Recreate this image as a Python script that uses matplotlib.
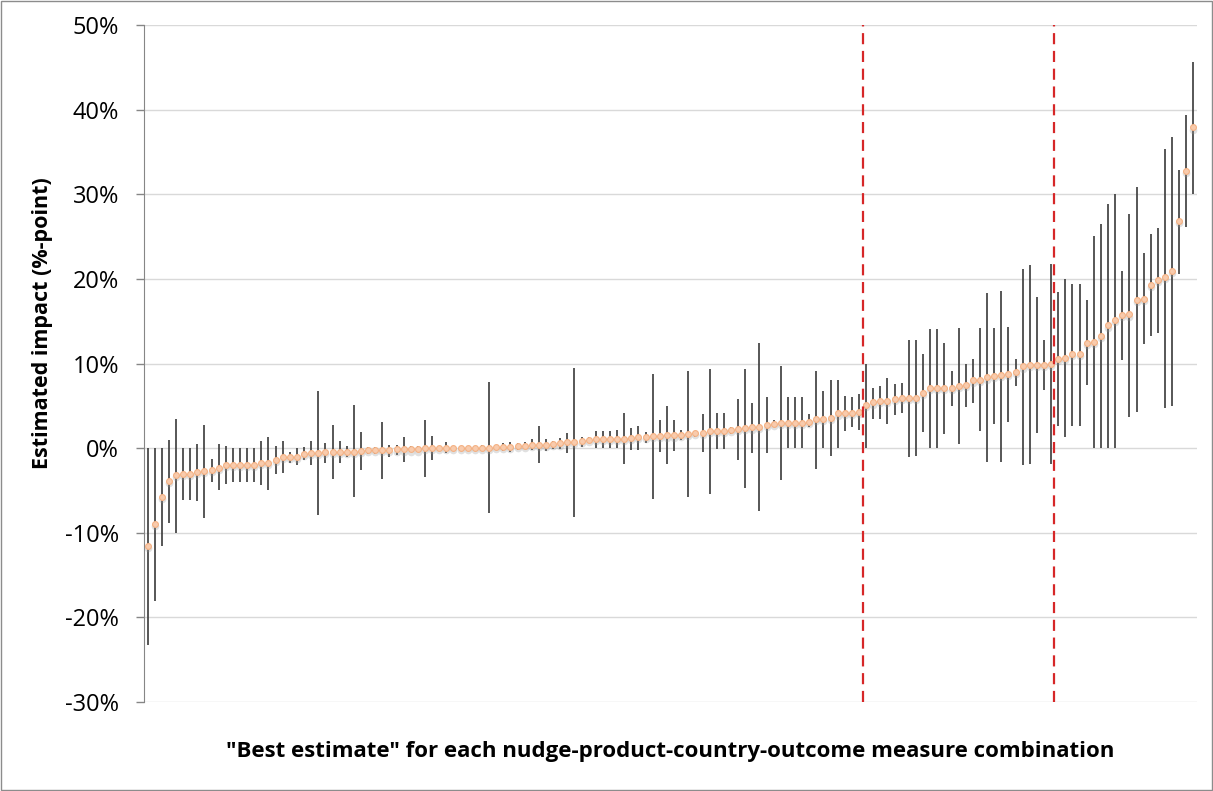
import matplotlib
matplotlib.use("Agg")
import matplotlib.pyplot as plt
from matplotlib.patches import Rectangle
from matplotlib.ticker import FuncFormatter
import numpy as np

# best estimate (%-point), sorted, with upper / lower bounds of each range
est = [-11.6, -9.0, -5.8, -3.9, -3.2, -3.0, -3.0, -2.8, -2.7, -2.6,
       -2.3, -2.0, -2.0, -2.0, -2.0, -2.0, -1.8, -1.7, -1.4, -1.0,
       -1.0, -1.0, -0.7, -0.6, -0.6, -0.45, -0.4, -0.4, -0.4, -0.4,
       -0.3, -0.25, -0.25, -0.25, -0.25, -0.15, -0.15, -0.15, -0.15, 0.0,
       0.0, 0.0, 0.0, 0.0, 0.0, 0.0, 0.0, 0.0, 0.0, 0.1,
       0.15, 0.15, 0.25, 0.3, 0.4, 0.4, 0.4, 0.45, 0.55, 0.7,
       0.7, 0.8, 1.0, 1.1, 1.1, 1.1, 1.1, 1.1, 1.2, 1.3,
       1.3, 1.4, 1.4, 1.5, 1.5, 1.55, 1.7, 1.8, 1.8, 2.0,
       2.0, 2.0, 2.1, 2.25, 2.4, 2.45, 2.5, 2.75, 2.9, 3.0,
       3.0, 3.0, 3.0, 3.1, 3.4, 3.45, 3.55, 4.1, 4.15, 4.2,
       4.25, 5.1, 5.4, 5.55, 5.6, 5.8, 5.9, 5.9, 5.9, 6.55,
       7.1, 7.1, 7.1, 7.1, 7.4, 7.5, 8.0, 8.1, 8.35, 8.5,
       8.6, 8.8, 9.0, 9.65, 9.85, 9.85, 9.85, 9.9, 10.5, 10.7,
       11.1, 11.1, 12.45, 12.6, 13.3, 14.5, 15.1, 15.7, 15.8, 17.5,
       17.6, 19.3, 19.9, 20.2, 20.9, 26.8, 32.8, 37.9]

upper = [0.0, 0.0, 0.0, 1.0, 3.5, 0.0, 0.0, 0.5, 2.7, -1.3,
         0.5, 0.2, 0.0, 0.0, 0.0, 0.0, 0.8, 1.3, 0.3, 0.8,
         -0.4, 0.0, 0.1, 0.8, 6.8, 0.6, 2.7, 0.9, 0.2, 5.1,
         1.9, 0.1, 0.1, 3.1, 0.4, 0.4, 1.3, 0.2, 0.2, 3.3,
         1.4, 0.1, 0.7, 0.1, 0.1, 0.1, 0.1, 0.4, 7.8, 0.3,
         0.55, 0.7, 0.55, 0.7, 1.1, 2.6, 1.1, 0.85, 1.15, 1.8,
         9.5, 1.3, 1.3, 2.0, 2.0, 2.0, 2.1, 4.1, 2.4, 2.6,
         1.9, 8.8, 3.3, 5.0, 3.3, 2.1, 9.1, 2.0, 4.0, 9.3,
         4.1, 4.1, 2.5, 5.8, 9.4, 5.3, 12.4, 6.1, 3.3, 9.7,
         6.0, 6.0, 6.0, 4.0, 9.1, 6.8, 8.0, 8.0, 6.2, 6.1,
         6.4, 10.0, 7.1, 7.4, 8.3, 7.6, 7.7, 12.8, 12.8, 11.1,
         14.1, 14.1, 12.4, 9.1, 14.2, 10.0, 10.5, 14.2, 18.3, 14.2,
         18.6, 14.3, 10.5, 21.2, 21.6, 17.9, 12.8, 21.8, 18.4, 20.0,
         19.4, 19.4, 17.5, 25.1, 26.5, 28.8, 30.0, 20.9, 27.7, 30.9,
         23.0, 25.3, 26.0, 35.4, 36.8, 32.9, 39.4, 45.6]

lower = [-23.3, -18.1, -11.6, -8.8, -10.0, -6.1, -6.1, -6.3, -8.2, -4.0,
         -5.0, -4.2, -4.0, -4.0, -4.0, -4.0, -4.4, -4.9, -3.0, -2.9,
         -1.7, -2.0, -1.4, -2.0, -7.9, -1.7, -3.6, -1.8, -1.0, -5.8,
         -2.6, -0.7, -0.7, -3.6, -1.0, -0.8, -1.6, -0.5, -0.5, -3.4,
         -1.4, -0.1, -0.6, -0.1, -0.1, -0.1, -0.1, -0.3, -7.7, -0.2,
         -0.3, -0.5, -0.25, -0.1, -0.25, -1.8, -0.3, -0.1, -0.15, -0.6,
         -8.1, 0.1, 0.55, 0.0, 0.0, 0.0, 0.0, -1.9, -0.2, -0.2,
         0.55, -6.0, -0.4, -1.9, -0.3, 1.0, -5.8, 1.3, -0.5, -5.4,
         -0.1, -0.1, 1.7, -1.4, -4.7, -0.55, -7.4, -0.6, 2.5, -3.8,
         0.0, 0.0, 0.0, 2.5, -2.5, 0.0, -0.9, 0.0, 2.0, 2.5,
         2.1, 0.0, 3.5, 3.4, 2.8, 3.9, 4.1, -1.0, -0.9, 1.85,
         0.0, 0.0, 1.7, 5.0, 0.5, 4.9, 5.3, 2.0, -1.6, 2.8,
         -1.6, 3.1, 7.3, -2.0, -1.9, 1.8, 6.9, -1.9, 2.6, 1.3,
         2.6, 2.6, 7.5, 0.0, 0.0, 0.0, 0.0, 10.4, 3.7, 4.25,
         12.3, 13.3, 13.6, 4.8, 5.0, 20.6, 26.1, 30.0]

# positions (in categories) of the two red dashed separators
splits = [100.5, 127.4]

x = np.arange(len(est))

fig = plt.figure(figsize=(12.13, 7.91), dpi=100)
ax = fig.add_axes([0.1187, 0.1125, 0.8681, 0.8559])

# range bars
ax.vlines(x, lower, upper, color="#3a3a3a", linewidth=1.2, zorder=2)

# soft shadow under the markers, then the markers
ax.plot(x, np.array(est) - 0.25, "o", ms=5.5, color="#9a9a9a", alpha=0.3,
        mew=0, zorder=3)
ax.plot(x, est, "o", ms=4.2, mfc="#F8CBAD", mec="#F4B183", mew=0.8, zorder=4)

for s in splits:
    ax.axvline(s, color="#d62728", linestyle=(0, (5, 3)), linewidth=1.6, zorder=5)

ax.set_xlim(-0.5, len(est) - 0.5)
ax.set_ylim(-30, 50)
ax.set_yticks(range(-30, 51, 10))
ax.yaxis.set_major_formatter(FuncFormatter(lambda v, p: f"{int(v)}%"))
ax.set_xticks([])

ax.grid(axis="y", color="#d9d9d9", linewidth=1)
ax.set_axisbelow(True)
for side in ["top", "right", "bottom"]:
    ax.spines[side].set_visible(False)
ax.spines["left"].set_color("#868686")
ax.tick_params(axis="y", colors="#868686", length=6, width=1, labelsize=17,
               labelcolor="black", pad=12)
for lab in ax.get_yticklabels():
    lab.set_family("Open Sans")

ax.set_ylabel("Estimated impact (%-point)", fontsize=15.5, fontweight="bold",
              family="Open Sans")
ax.yaxis.set_label_coords(-0.086, 0.56)
ax.set_xlabel('"Best estimate" for each nudge-product-country-outcome measure combination',
              fontsize=16, fontweight="bold", family="Open Sans", labelpad=28)

# chart border
fig.patches.append(Rectangle((0.0008, 0.0013), 0.9984, 0.9974, transform=fig.transFigure,
                             fill=False, edgecolor="#8c8c8c", linewidth=1))

fig.savefig("out.png", dpi=100)
